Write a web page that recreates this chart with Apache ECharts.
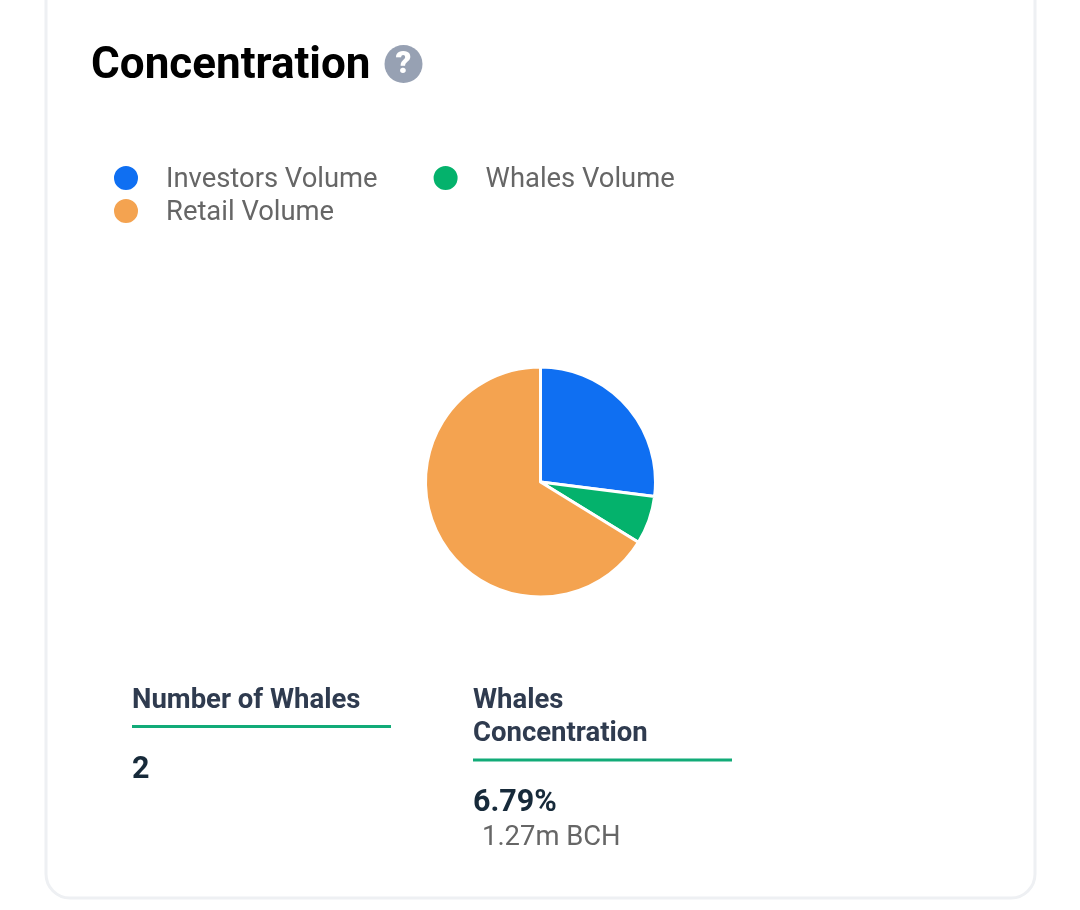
<!DOCTYPE html>
<html><head><meta charset="utf-8">
<style>html,body{margin:0;padding:0;background:#fff}#c{width:1080px;height:910px}</style>
<script src="https://cdn.jsdelivr.net/npm/echarts@6/dist/echarts.min.js"></script></head>
<body><div id="c"></div>
<script>
const categories = ['Investors Volume','Whales Volume','Retail Volume'];
const values = [27.0,6.79,66.21];
const colors = ['#0f6ff2','#04b26c','#f4a350'];
const chartTitle = 'Concentration';
const statA = {label:['Number of Whales'], value:'2'};
const statB = {label:['Whales','Concentration'], value:'6.79%', sub:'1.27m BCH'};
const F='Roboto';
const chart = echarts.init(document.getElementById('c'),null,{renderer:'canvas'});
function txt(x,y,s,size,weight,fill){return {type:'text',x,y,silent:true,style:{text:s,font:weight+' '+size+'px '+F,fill,textVerticalAlign:'middle',verticalAlign:'middle'}};}
const legendBase={icon:'circle',itemWidth:26,itemHeight:26,itemGap:54,padding:0,orient:'horizontal',selectedMode:false,
  formatter:n=>'{t|'+n+'}',
  textStyle:{fontFamily:F,fontSize:27.4,color:'#666',padding:[0,0,0,22],
    rich:{t:{fontFamily:F,fontSize:27.4,color:'#666',padding:[4,0,0,0]}}}};
chart.setOption({
 animation:false,
 color:colors,
 legend:[
  {...legendBase,left:112,top:164,data:categories.slice(0,2)},
  {...legendBase,left:112,top:197,data:categories.slice(2)}
 ],
 series:[{type:'pie',center:[540.5,482],radius:[0,115],startAngle:90,clockwise:true,
  label:{show:false},labelLine:{show:false},silent:true,
  itemStyle:{borderColor:'#fff',borderWidth:3},
  data:categories.map((n,i)=>({name:n,value:values[i]}))}],
 graphic:[
  {type:'rect',z:-1,silent:true,shape:{x:46,y:-40,width:989,height:938,r:24},style:{fill:'#fff',stroke:'#eef0f3',lineWidth:3}},
  txt(91,67,chartTitle,44,'700','#000'),
  {type:'circle',silent:true,shape:{cx:403.5,cy:64,r:19},style:{fill:'#97a1b3'}},
  {type:'text',silent:true,x:403.5,y:65,style:{text:'?',font:'900 31px '+F,fill:'#fff',align:'center',verticalAlign:'middle'}},
  txt(132,701,statA.label[0],27.5,'700','#2f3b4f'),
  {type:'rect',silent:true,shape:{x:132,y:725,width:259,height:3},style:{fill:'#12ab78'}},
  txt(132,770,statA.value,30.5,'700','#172a3a'),
  txt(473,701,statB.label[0],27.5,'700','#2f3b4f'),
  txt(473,734,statB.label[1],27.5,'700','#2f3b4f'),
  {type:'rect',silent:true,shape:{x:473,y:758.5,width:259,height:3},style:{fill:'#12ab78'}},
  txt(473,803,statB.value,30.5,'700','#172a3a'),
  txt(482,838,statB.sub,27.4,'400','#666')
 ]
});
</script></body></html>
